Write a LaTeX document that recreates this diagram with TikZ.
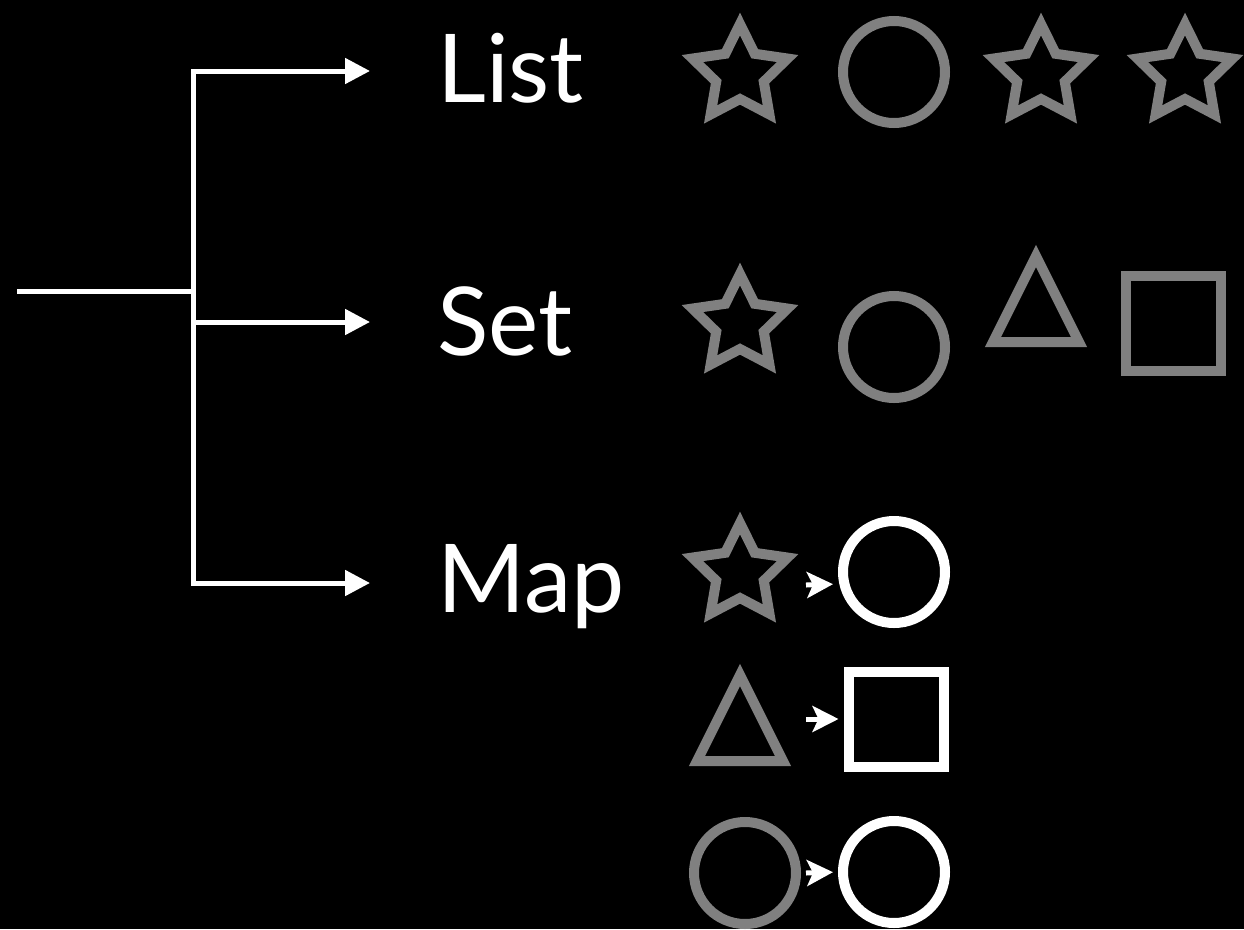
\documentclass[tikz,border=0pt]{standalone}
\usepackage{fontspec}
\setmainfont{Lato}
\usetikzlibrary{arrows.meta,shapes.geometric}
\definecolor{shapegray}{RGB}{128,128,128}

\begin{document}
\begin{tikzpicture}[x=1pt, y={(0,-1pt)}, line join=miter]
    \tikzset{%
      tree/.style      = {draw=white, line width=5pt},
      branch/.style    = {tree, -{Triangle[length=25pt,width=25pt]}},
      kind/.style      = {text=white, font=\fontsize{95}{95}\selectfont,
                          anchor=base west, inner sep=0pt},
      gshape/.style    = {draw=shapegray, line width=10pt, inner sep=0pt},
      wshape/.style    = {gshape, draw=white},
      starshape/.style = {star, star points=5, star point ratio=2, minimum size=100pt},
      ringshape/.style = {circle, minimum size=102pt},
      boxshape/.style  = {rectangle, minimum size=95pt},
      tri/.pic         = {\draw[gshape] (0,-44) -- (43,42) -- (-43,42) -- cycle;},
      maparrow/.style  = {draw=white, line width=5pt, shorten >=5pt,
                          -{Stealth[length=26pt,width=26pt,inset=6pt]}}
    }
    \useasboundingbox[fill=black] (0,0) rectangle (1244,929);

    % the three kinds
    \node[kind] (list) at (437,102) {List};
    \node[kind] (set)  at (437,355) {Set};
    \node[kind] (map)  at (437,612) {Map};

    \coordinate (root) at (17,291);
    \coordinate (fork) at (193,291);
    \coordinate (lt) at (370,71);
    \coordinate (st) at (370,322);
    \coordinate (mt) at (370,583);

    \draw[tree] (root) -- (fork);
    \draw[tree, line cap=rect] (fork |- lt) -- (fork |- mt);
    \foreach \e in {lt,st,mt}{
      \draw[branch] (fork |- \e) -- (\e);
    }

    % list: order kept, repeats allowed
    \node[gshape, starshape] (l1) at (740,74)  {};
    \node[gshape, ringshape] (l2) at (894,72)  {};
    \node[gshape, starshape] (l3) at (1041,74) {};
    \node[gshape, starshape] (l4) at (1185,74) {};

    % set: no repeats
    \node[gshape, starshape] (s1) at (740,324)  {};
    \node[gshape, ringshape] (s2) at (894,347)  {};
    \coordinate (s3) at (1036,300);
    \pic at (s3) {tri};
    \node[gshape, boxshape]  (s4) at (1173,323) {};

    % map: key -> value
    \node[gshape, starshape] (k1) at (740,573) {};
    \node[wshape, ringshape] (v1) at (894,572) {};
    \coordinate (k2) at (740,719);
    \pic at (k2) {tri};
    \node[wshape, boxshape]  (v2) at (896,719) {};
    \node[gshape, ringshape] (k3) at (745,873) {};
    \node[wshape, ringshape] (v3) at (894,872) {};

    \draw[maparrow] ([xshift=66pt,yshift=-12pt]k1.center) -- ([yshift=-12pt]v1.west);
    \draw[maparrow] ([xshift=66pt]k2) -- (v2.west);
    \draw[maparrow] ([xshift=5pt]k3.east) -- (v3.west);
\end{tikzpicture}
\end{document}
